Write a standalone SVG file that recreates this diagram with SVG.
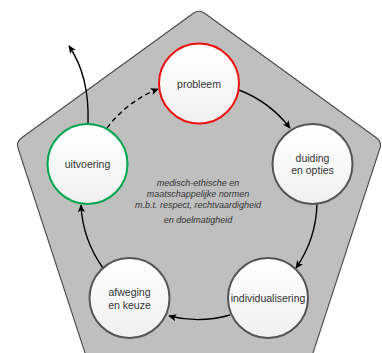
<svg xmlns="http://www.w3.org/2000/svg" width="382" height="353" viewBox="0 0 382 353">
<defs>
<linearGradient id="cg" x1="0" y1="0" x2="0" y2="1">
<stop offset="0" stop-color="#ffffff"/>
<stop offset="1" stop-color="#f0f0f0"/>
</linearGradient>
<marker id="ah" viewBox="0 0 10 10" refX="9" refY="5" markerWidth="8" markerHeight="8" markerUnits="userSpaceOnUse" orient="auto">
<path d="M0,0.5 L10,5 L0,9.5 L2.5,5 Z" fill="#000"/>
</marker>
<style>
.node{fill:url(#cg);stroke-width:2;}
.lbl{font-family:"Liberation Sans",Arial,sans-serif;font-size:10.5px;fill:#333;text-anchor:middle;}
.mid{font-family:"Liberation Sans",Arial,sans-serif;font-size:9px;font-style:italic;fill:#333;text-anchor:middle;}
.con{fill:none;stroke:#000;stroke-width:1.4;marker-end:url(#ah);}
</style>
</defs>
<g id="background">
<path d="M193,13.5 Q199,9 205,13.5 L376,137.5 Q382,142 380,148 L312,356 L86,356 L18,148 Q16,142 22,137.5 Z" fill="#bfbfbf" stroke="#4a4a4a" stroke-width="1.1"/>
</g>
<g id="connectors">
<path class="con" d="M107,128 A118,118 0 0 1 158,89" stroke-dasharray="5,3.5"/>
<path class="con" d="M239,90 A118,118 0 0 1 290,128"/>
<path class="con" d="M317,203 A118,118 0 0 1 296,268"/>
<path class="con" d="M230,315 A118,118 0 0 1 169,316"/>
<path class="con" d="M103,268 A118,118 0 0 1 81,205"/>
<path class="con" d="M88,123 C89,95 84,68 69,46"/>
</g>
<g id="probleem">
<circle class="node" cx="199" cy="83.5" r="40" stroke="#ee1111"/>
<text class="lbl" x="199" y="87.5">probleem</text>
</g>
<g id="duiding">
<circle class="node" cx="312.5" cy="164" r="40" stroke="#555" stroke-width="1"/>
<text class="lbl" x="312.5" y="161.5">duiding</text>
<text class="lbl" x="312.5" y="173.5">en opties</text>
</g>
<g id="individualisering">
<circle class="node" cx="268" cy="298" r="40" stroke="#555" stroke-width="1"/>
<text class="lbl" x="268" y="302">individualisering</text>
</g>
<g id="afweging">
<circle class="node" cx="129.5" cy="298" r="40" stroke="#555" stroke-width="1"/>
<text class="lbl" x="129.5" y="296">afweging</text>
<text class="lbl" x="129.5" y="308.5">en keuze</text>
</g>
<g id="uitvoering">
<circle class="node" cx="87.5" cy="164" r="40" stroke="#00a64f"/>
<text class="lbl" x="87.5" y="168">uitvoering</text>
</g>
<g id="center-text">
<text class="mid" x="198" y="186">medisch-ethische en</text>
<text class="mid" x="198" y="197">maatschappelijke normen</text>
<text class="mid" x="198" y="207.5">m.b.t. respect, rechtvaardigheid</text>
<text class="mid" x="198" y="223">en doelmatigheid</text>
</g>
</svg>
